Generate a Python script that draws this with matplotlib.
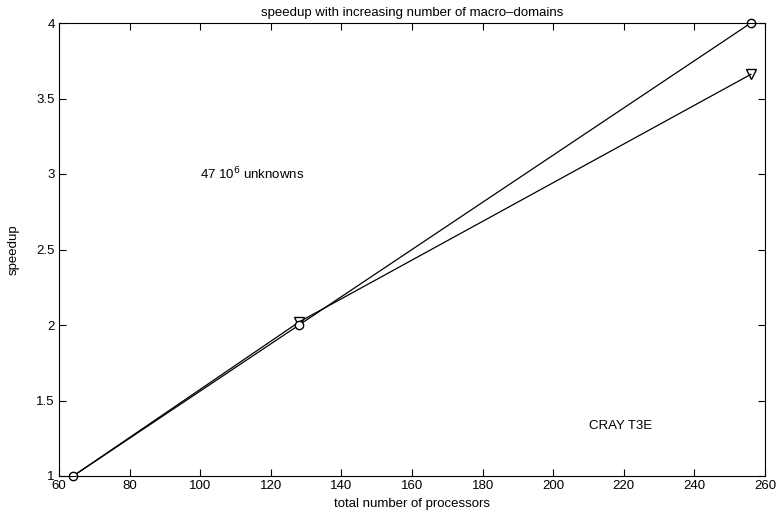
import matplotlib.pyplot as plt

# data
procs = [64, 128, 256]
speedup_circle = [1.0, 2.0, 4.0]
speedup_tri = [1.0, 2.02, 3.66]

plt.rcParams['font.family'] = ['Liberation Sans', 'DejaVu Sans']

fig = plt.figure(figsize=(7.82, 5.16), dpi=100)
ax = fig.add_axes([59 / 782, 1 - 476 / 516, (765 - 59) / 782, (476 - 23) / 516])

ax.plot(procs, speedup_tri, color='black', linewidth=0.9, marker='v',
        markersize=7, markerfacecolor='none', markeredgecolor='black',
        markevery=[1, 2], clip_on=False)
ax.plot(procs, speedup_circle, color='black', linewidth=0.9, marker='o',
        markersize=6, markerfacecolor='white', markeredgecolor='black',
        clip_on=False)

ax.set_xlim(60, 260)
ax.set_ylim(1, 4)
ax.set_xticks(range(60, 261, 20))
ax.set_yticks([1, 1.5, 2, 2.5, 3, 3.5, 4])
ax.set_yticklabels(['1', '1.5', '2', '2.5', '3', '3.5', '4'])
ax.tick_params(direction='in', top=True, right=True, labelsize=9.5, length=5, pad=3)

ax.set_title('speedup with increasing number of macro\u2013domains', fontsize=9.5, pad=5)
ax.set_xlabel('total number of processors', fontsize=9.5, labelpad=4)
ax.set_ylabel('speedup', fontsize=9.5, labelpad=12)

ax.text(100, 3.0, r'47 10$^6$ unknowns', fontsize=9.5, va='center')
ax.text(210, 1.33, 'CRAY T3E', fontsize=9.5, va='center')

fig.savefig('out.png', dpi=100)
